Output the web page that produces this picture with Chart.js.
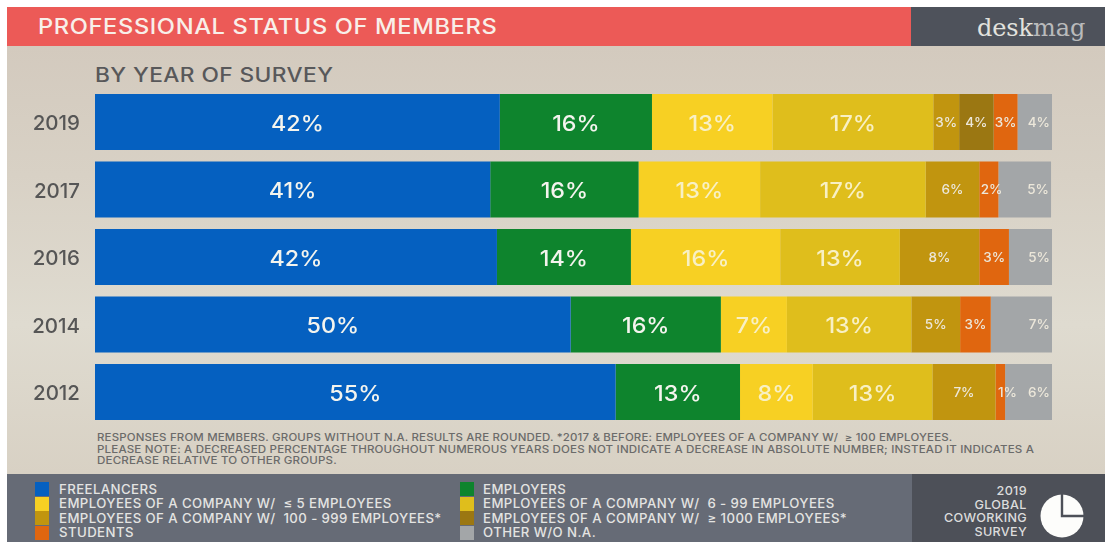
<!DOCTYPE html>
<html><head><meta charset="utf-8">
<script src="https://cdn.jsdelivr.net/npm/chart.js@4"></script>
<style>
html,body{margin:0;padding:0;background:#fff;overflow:hidden}
#page{position:relative;width:1105px;height:542px;font-family:Inter,"Open Sans",sans-serif;overflow:hidden}
#page div{position:absolute;white-space:pre}
#bg{left:7px;top:46px;width:1098px;height:428px;background:linear-gradient(180deg,#d3cabe 0%,#d8d1c5 30%,#dfdbd0 65%,#d8d1c4 100%)}
#red{left:7px;top:7px;width:904px;height:39px;background:#ec5a57}
#dark{left:911px;top:7px;width:194px;height:39px;background:#4e525b}
#foot{left:7px;top:474px;width:905px;height:68px;background:#666b76}
#footr{left:912px;top:474px;width:193px;height:68px;background:#4d5058}
#title{left:38px;top:15px;font-size:21px;line-height:24px;font-weight:500;color:#f8efe9;letter-spacing:.55px;transform:scaleX(1.127);transform-origin:0 0}
#logo{left:977px;top:13px;font-family:"DejaVu Serif",serif;font-size:24px;line-height:30px;color:#e2e2de;letter-spacing:-.1px}
#logo span{color:#b9babb}
#sub{left:95px;top:63px;font-size:19.5px;line-height:24px;font-weight:500;color:#58585a;letter-spacing:.35px;transform:scaleX(1.165);transform-origin:0 0}
.note{left:97px;font-size:10.3px;line-height:12px;font-weight:500;color:#6b6b6a;letter-spacing:.16px;transform:scaleX(1.12);transform-origin:0 0}
.sw{width:14px;height:14px}
.lg{font-size:12.8px;line-height:15px;font-weight:500;color:#e4e4e2;letter-spacing:.42px;transform:scaleX(1.03);transform-origin:0 0}
.sv{right:78px;text-align:right;font-size:12px;line-height:14px;font-weight:500;color:#dcdcdc;letter-spacing:.3px;transform:scaleX(1.05);transform-origin:100% 0}
#c{position:absolute;left:0;top:0}
</style></head>
<body>
<div id="page">
<div id="bg"></div><div id="red"></div><div id="dark"></div><div id="foot"></div><div id="footr"></div>
<div id="title">PROFESSIONAL STATUS OF MEMBERS</div>
<div id="logo">desk<span>mag</span></div>
<div id="sub">BY YEAR OF SURVEY</div>
<div class="note" style="top:431px;transform:scaleX(1.11)">RESPONSES FROM MEMBERS. GROUPS WITHOUT N.A. RESULTS ARE ROUNDED. *2017 &amp; BEFORE: EMPLOYEES OF A COMPANY W/  ≥ 100 EMPLOYEES.</div>
<div class="note" style="top:443px">PLEASE NOTE: A DECREASED PERCENTAGE THROUGHOUT NUMEROUS YEARS DOES NOT INDICATE A DECREASE IN ABSOLUTE NUMBER; INSTEAD IT INDICATES A</div>
<div class="note" style="top:454px">DECREASE RELATIVE TO OTHER GROUPS.</div>
<div id="legend"></div>
<div class="sv" style="top:484px">2019</div>
<div class="sv" style="top:498px">GLOBAL</div>
<div class="sv" style="top:511px">COWORKING</div>
<div class="sv" style="top:525px">SURVEY</div>
<svg style="position:absolute;left:1039px;top:494px" width="46" height="44" viewBox="0 0 46 44">
<circle cx="23" cy="22" r="21.5" fill="#fdfdfb"/>
<path d="M23 0 V22 H46" fill="none" stroke="#4d5058" stroke-width="2.4"/>
</svg>
<canvas id="c" width="1105" height="542"></canvas>
</div>
<script>
const years = ['2019','2017','2016','2014','2012'];
const legendLabels = [
 'FREELANCERS','EMPLOYERS',
 'EMPLOYEES OF A COMPANY W/  ≤ 5 EMPLOYEES','EMPLOYEES OF A COMPANY W/  6 - 99 EMPLOYEES',
 'EMPLOYEES OF A COMPANY W/  100 - 999 EMPLOYEES*','EMPLOYEES OF A COMPANY W/  ≥ 1000 EMPLOYEES*',
 'STUDENTS','OTHER W/O N.A.'];
const colors = ['#0560c0','#0e842d','#f7d023','#dfbe1c','#c1950f','#9b7712','#e0660f','#a3a6a8'];

// bar lengths as measured on the picture (bars fill 100%)
const freelancers = [42.3,41.3,42.0,49.7,54.4];
const employers   = [15.9,15.5,14.0,15.7,13.0];
const upTo5       = [12.6,12.7,15.6,6.9,7.6];
const from6to99   = [16.8,17.3,12.5,13.0,12.5];
const from100to999= [2.7,5.6,8.3,5.1,6.6];
const over1000    = [3.6,null,null,null,null];
const students    = [2.5,2.0,3.1,3.2,1.0];
const other       = [3.6,5.5,4.5,6.4,4.9];

// percentages as printed on the bars
const printedFreelancers = [42,41,42,50,55];
const printedEmployers   = [16,16,14,16,13];
const printedUpTo5       = [13,13,16,7,8];
const printedFrom6to99   = [17,17,13,13,13];
const printedFrom100to999= [3,6,8,5,7];
const printedOver1000    = [4,null,null,null,null];
const printedStudents    = [3,2,3,3,1];
const printedOther       = [4,5,5,7,6];

const series = [freelancers,employers,upTo5,from6to99,from100to999,over1000,students,other];
const printed = [printedFreelancers,printedEmployers,printedUpTo5,printedFrom6to99,printedFrom100to999,printedOver1000,printedStudents,printedOther];

const legendEl = document.getElementById('legend');
const rowTops = [489,503.5,518,532.5], colSw = [35,460], colTx = [59,483];
legendLabels.forEach((t,i)=>{
  const col=i%2,row=(i-col)/2;
  const s=document.createElement('div');s.className='sw';
  s.style.cssText=`left:${colSw[col]}px;top:${rowTops[row]-7}px;background:${colors[i]}`;
  const l=document.createElement('div');l.className='lg';l.textContent=t;
  l.style.cssText=`left:${colTx[col]}px;top:${rowTops[row]-7.5}px`;
  legendEl.append(s,l);
});

const barLabels={id:'barLabels',afterDatasetsDraw(chart){
  const ctx=chart.ctx;ctx.save();
  ctx.textBaseline='middle';
  chart.data.datasets.forEach((ds,d)=>{
    chart.getDatasetMeta(d).data.forEach((el,i)=>{
      const p=printed[d][i]; if(p==null) return;
      const big=d<4;
      ctx.font=(big?'500 22px ':'500 13px ')+'Inter,"Open Sans",sans-serif';
      ctx.fillStyle=(d===2||d===3)?'#f8f0c4':(d===0||d===1)?'#f4f4ee':'#ece7da';
      const text=p+'%';
      const left=el.base,right=el.x,y=el.y+(big?2:1);
      const sx=big?1.06:1.04;
      const w=ctx.measureText(text).width*sx, bw=right-left;
      ctx.save();
      if(d===7){
        ctx.textAlign='right';ctx.translate(right-2,y);
      }else{
        ctx.textAlign='center';
        // narrow student bars: the printed label spills to the right
        const nudge=(d===6&&bw<w+2)?(w-bw)*0.65+1:0;
        ctx.translate((left+right)/2+nudge,y);
      }
      ctx.scale(sx,1);
      ctx.fillText(text,0,0);
      ctx.restore();
    });
  });
  ctx.restore();
}};

new Chart(document.getElementById('c'),{
  type:'bar',
  data:{labels:years,datasets:series.map((v,i)=>({label:legendLabels[i],data:v,backgroundColor:colors[i],borderWidth:0,barPercentage:0.83,categoryPercentage:1}))},
  plugins:[barLabels],
  options:{
    indexAxis:'y',responsive:false,animation:false,devicePixelRatio:1,
    layout:{padding:{left:0,top:88.25,right:53,bottom:116.25}},
    plugins:{legend:{display:false},title:{display:false},tooltip:{enabled:false}},
    scales:{
      x:{stacked:true,min:0,max:100,display:false},
      y:{stacked:true,border:{display:false},grid:{display:false,drawTicks:false},
         afterFit(s){s.width=95;},
         ticks:{padding:15,labelOffset:2,color:'#565656',font:{family:'Inter,"Open Sans",sans-serif',size:20.5,weight:'500'}}}
    }
  }
});
</script>
</body></html>
